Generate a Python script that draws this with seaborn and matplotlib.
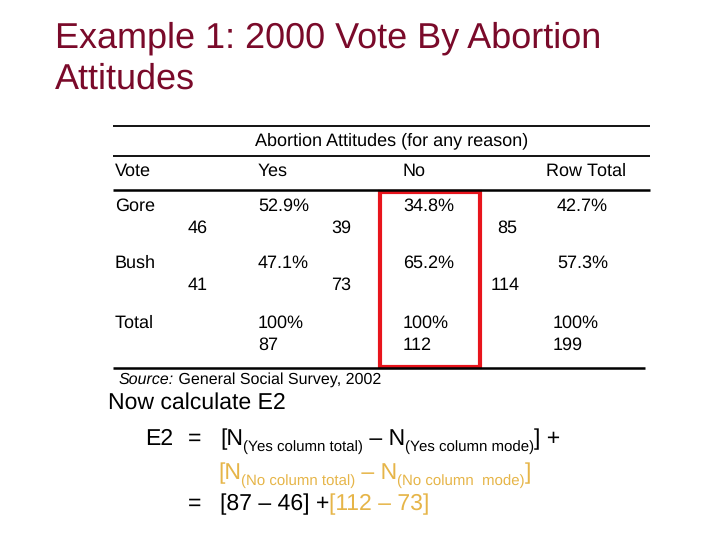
import matplotlib
matplotlib.use("Agg")
import matplotlib.pyplot as plt
import seaborn as sns
from matplotlib.patches import Rectangle

# ---- data ----
title_lines = ["Example 1: 2000 Vote By Abortion", "Attitudes"]
table_header = "Abortion Attitudes (for any reason)"
row_labels = ["Gore", "Bush", "Total"]
col_labels = ["Vote", "Yes", "No", "Row Total"]
yes_pct = [52.9, 47.1, 100]
no_pct = [34.8, 65.2, 100]
row_pct = [42.7, 57.3, 100]
yes_n = [46, 41, 87]
no_n = [39, 73, 112]
row_n = [85, 114, 199]
source_label = "Source:"
source_text = " General Social Survey, 2002"

sns.set_theme(style="white")
plt.rcParams['font.family'] = ['Liberation Sans', 'DejaVu Sans']
plt.rcParams['text.color'] = 'black'
plt.rcParams['text.hinting'] = 'no_hinting'
plt.rcParams['text.hinting_factor'] = 1

BLACK = "#000000"
MAROON = "#7A0A2A"
GOLD = "#E6B548"
RED = "#E8141C"

fig = plt.figure(figsize=(7.2, 5.4), dpi=100)
fig.patch.set_facecolor("white")
ax = fig.add_axes([0, 0, 1, 1])
ax.set_xlim(0, 720)
ax.set_ylim(540, 0)
ax.axis("off")

# title
ax.text(55, 38, title_lines[0], fontsize=26, color=MAROON, va="center", ha="left")
ax.text(55, 79, title_lines[1], fontsize=26, color=MAROON, va="center", ha="left")

# table rules
ax.hlines([126, 156], 113, 650, color=BLACK, lw=1.3)
ax.hlines([190], 113, 650, color=BLACK, lw=1.8)
ax.hlines([368], 113, 645, color=BLACK, lw=1.8)

TS = 13
ax.text(392, 141, table_header, fontsize=TS, ha="center", va="center")
for lab, x in zip(col_labels, [115, 258, 403, 546]):
    ax.text(x, 171, lab, fontsize=TS, ha="left", va="center")

pct_y = [206, 263, 323]
cnt_y = [228, 285, 345]
pct_x = [258, 403, 557]
total_pct_x = [258, 403, 553]
cnt_x = [[188, 331, 497], [188, 331, 491]]

def fmt(v):
    return f"{v:g}%"

for i, lab in enumerate(row_labels):
    ax.text(115, pct_y[i], lab, fontsize=TS, ha="left", va="center")
    vals = [yes_pct[i], no_pct[i], row_pct[i]]
    ns = [yes_n[i], no_n[i], row_n[i]]
    if i < 2:
        for v, x in zip(vals, pct_x):
            ax.text(x, pct_y[i], fmt(v), fontsize=TS, ha="left", va="center")
        for n, x in zip(ns, cnt_x[i]):
            ax.text(x, cnt_y[i], str(n), fontsize=TS, ha="left", va="center")
    else:
        for v, n, x in zip(vals, ns, total_pct_x):
            ax.text(x, pct_y[i], fmt(v), fontsize=TS, ha="left", va="center")
            ax.text(x, cnt_y[i], str(n), fontsize=TS, ha="left", va="center")

ax.add_patch(Rectangle((380, 192), 100, 175, fill=False, ec=RED, lw=3))

renderer = fig.canvas.get_renderer()
inv = ax.transData.inverted()

def chain(x, pieces):
    for txt, y, size, color, style in pieces:
        t = ax.text(x, y, txt, fontsize=size, color=color, style=style,
                    ha="left", va="baseline")
        bb = t.get_window_extent(renderer)
        x = inv.transform((bb.x1, bb.y0))[0]
    return x

# source
chain(119, [(source_label, 384, 11.5, BLACK, "italic"),
            (source_text, 384, 11.5, BLACK, "normal")])

ax.text(108, 403, "Now calculate E2", fontsize=16.5, ha="left", va="center")

MS = 16.5
SS = 11
ax.text(145, 445, "E2", fontsize=MS, ha="left", va="baseline")
ax.text(188, 445, "=", fontsize=MS, ha="left", va="baseline")
chain(220, [("[N", 445, MS, BLACK, "normal"),
            ("(Yes column total)", 451, SS, BLACK, "normal"),
            (" – N", 445, MS, BLACK, "normal"),
            ("(Yes column mode)", 451, SS, BLACK, "normal"),
            ("] +", 445, MS, BLACK, "normal")])
chain(218, [("[N", 479, MS, GOLD, "normal"),
            ("(No column total)", 485, SS, GOLD, "normal"),
            (" – N", 479, MS, GOLD, "normal"),
            ("(No column  mode)", 485, SS, GOLD, "normal"),
            ("]", 479, MS, GOLD, "normal")])
ax.text(188, 510, "=", fontsize=MS, ha="left", va="baseline")
chain(220, [("[87 – 46] +", 510, MS, BLACK, "normal"),
            ("[112 – 73]", 510, MS, GOLD, "normal")])

fig.savefig("out.png", dpi=100, facecolor="white")
